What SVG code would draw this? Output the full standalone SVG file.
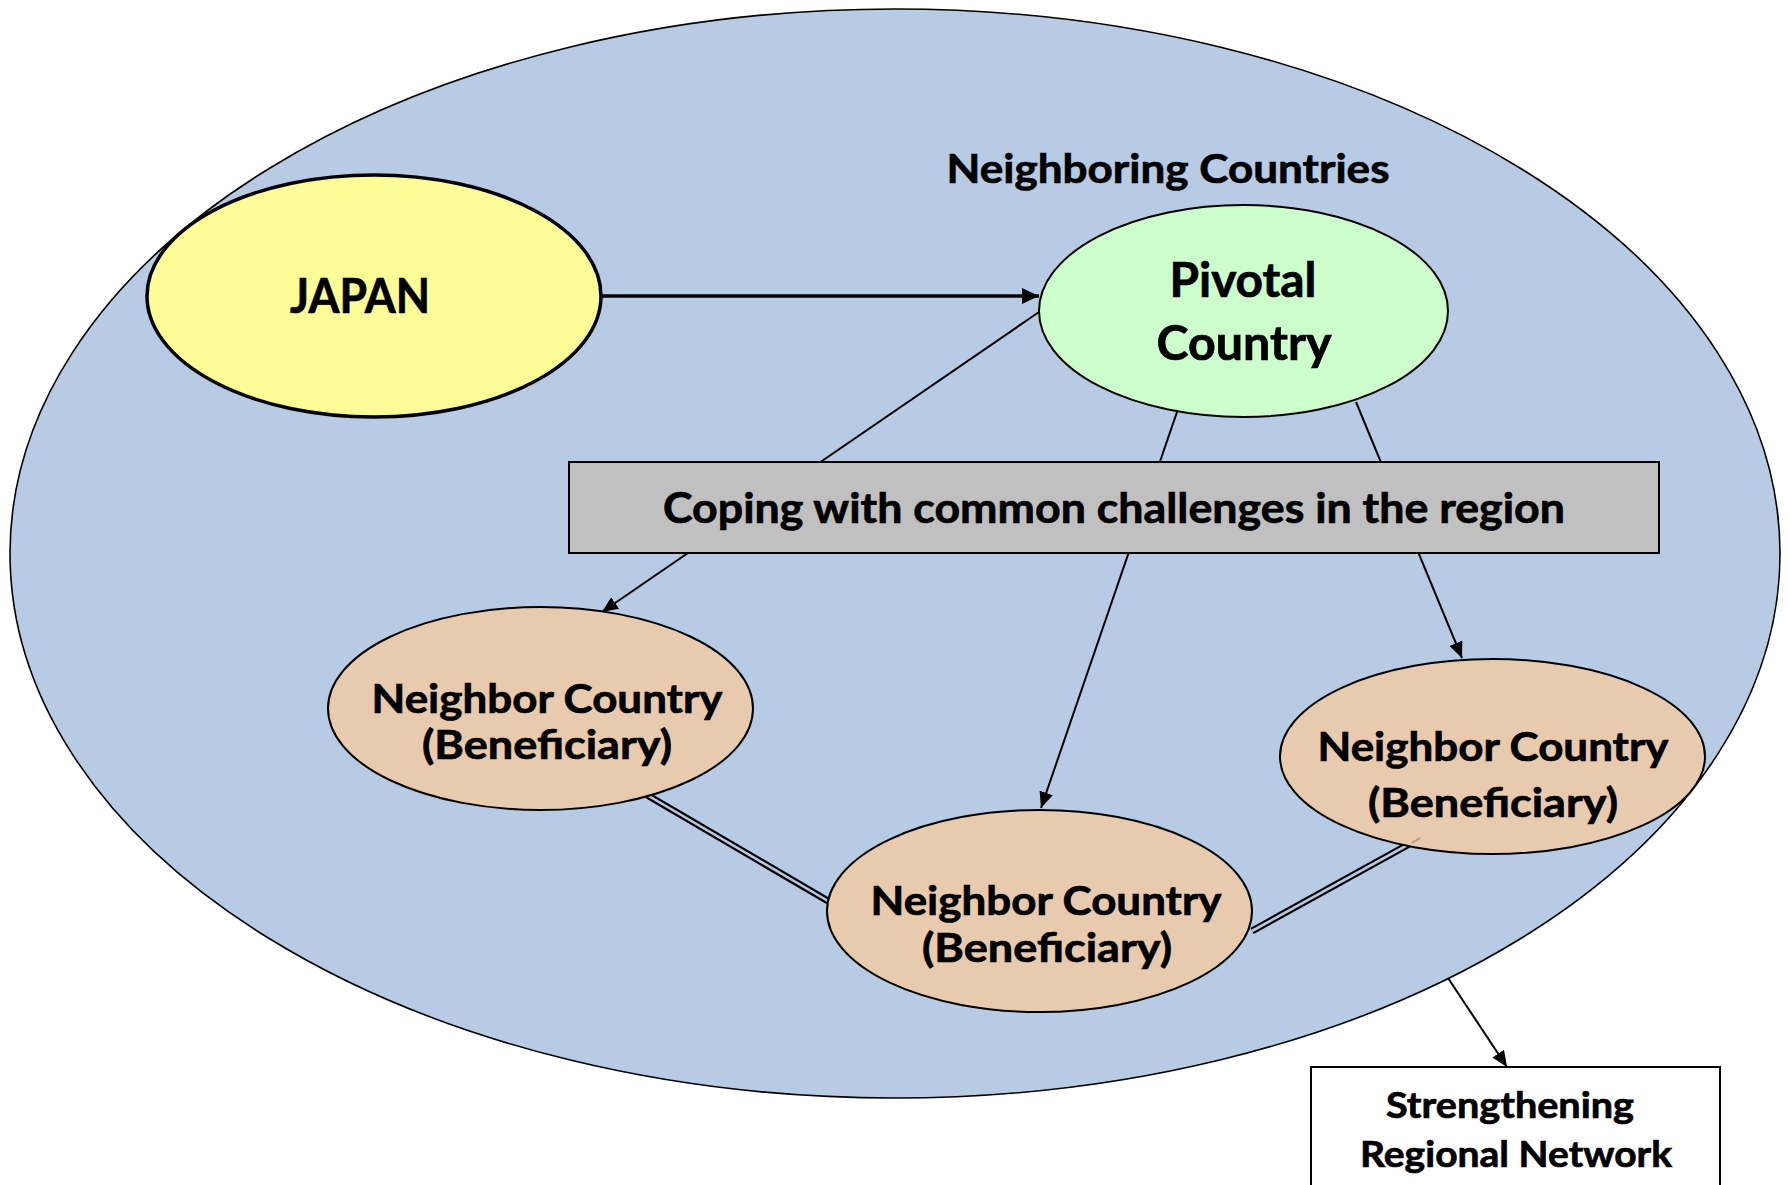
<svg xmlns="http://www.w3.org/2000/svg" width="1789" height="1185" viewBox="0 0 1789 1185">
  <style>
    .lbl { font-family: Lato, "Open Sans", "Liberation Sans", sans-serif; font-weight: bold; fill: #000; stroke: #000; stroke-width: 0.7; text-anchor: middle; }
    .nbr { fill: #E8CAAE; stroke: #000; stroke-width: 2; }
    .link { fill: none; stroke: #000; stroke-width: 2; }
    .dbl-outer { fill: none; stroke: #000; stroke-width: 7; }
    .dbl-inner { fill: none; stroke: #B7CBE4; stroke-width: 2.6; }
  </style>
  <defs>
    <marker id="head" markerUnits="userSpaceOnUse" markerWidth="18" markerHeight="14" refX="16" refY="7" orient="auto">
      <path d="M0,0 L16,7 L0,14 Z" fill="#000"/>
    </marker>
    <marker id="headBig" markerUnits="userSpaceOnUse" markerWidth="18" markerHeight="16" refX="17" refY="8" orient="auto">
      <path d="M0,0 L17,8 L0,16 Z" fill="#000"/>
    </marker>
  </defs>

  <rect width="1789" height="1185" fill="#fff"/>

  <!-- region boundary -->
  <g id="region">
    <ellipse cx="895" cy="553.5" rx="885" ry="544.5" fill="#B7CBE4" stroke="#000" stroke-width="1.6"/>
  </g>

  <!-- connectors -->
  <g id="connectors">
    <line x1="602" y1="296" x2="1039" y2="296" stroke="#000" stroke-width="3.5" marker-end="url(#headBig)"/>
    <line class="link" x1="1039" y1="312" x2="602" y2="612" marker-end="url(#head)"/>
    <line class="link" x1="1177" y1="412" x2="1041" y2="808" marker-end="url(#head)"/>
    <line class="link" x1="1356" y1="402" x2="1462" y2="658" marker-end="url(#head)"/>
    <line class="dbl-outer" x1="647" y1="795" x2="828" y2="901"/>
    <line class="dbl-inner" x1="647" y1="795" x2="828" y2="901"/>
    <line class="dbl-outer" x1="1252" y1="931" x2="1413" y2="842"/>
    <line class="dbl-inner" x1="1252" y1="931" x2="1413" y2="842"/>
    <line class="link" x1="1448" y1="978" x2="1507" y2="1067" marker-end="url(#head)"/>
  </g>

  <g id="region-label">
    <text class="lbl" x="1168" y="183" font-size="41" textLength="443" lengthAdjust="spacingAndGlyphs">Neighboring Countries</text>
  </g>

  <g id="challenges">
    <rect x="569" y="462" width="1090" height="91" fill="#C0C0C0" stroke="#000" stroke-width="2"/>
    <text class="lbl" x="1114" y="523" font-size="42" textLength="902" lengthAdjust="spacingAndGlyphs">Coping with common challenges in the region</text>
  </g>

  <g id="japan">
    <ellipse cx="374" cy="296" rx="227" ry="121" fill="#FDFD98" stroke="#000" stroke-width="3.5"/>
    <text class="lbl" x="360" y="313" font-size="48" textLength="140" lengthAdjust="spacingAndGlyphs">JAPAN</text>
  </g>

  <g id="pivotal">
    <ellipse cx="1243.5" cy="311" rx="204.5" ry="106" fill="#CCFFCC" stroke="#000" stroke-width="2"/>
    <text class="lbl" x="1243" y="297" font-size="48" textLength="147" lengthAdjust="spacingAndGlyphs">Pivotal</text>
    <text class="lbl" x="1244" y="360" font-size="48" textLength="175" lengthAdjust="spacingAndGlyphs">Country</text>
  </g>

  <g id="neighbor-1">
    <ellipse class="nbr" cx="540.5" cy="708.5" rx="212.5" ry="101.5"/>
    <text class="lbl" x="547" y="713" font-size="41" textLength="351" lengthAdjust="spacingAndGlyphs">Neighbor Country</text>
    <text class="lbl" x="547" y="759" font-size="41" textLength="250" lengthAdjust="spacingAndGlyphs">(Beneficiary)</text>
  </g>

  <g id="neighbor-2">
    <ellipse class="nbr" cx="1039.5" cy="911" rx="212.5" ry="101"/>
    <text class="lbl" x="1046" y="915" font-size="41" textLength="351" lengthAdjust="spacingAndGlyphs">Neighbor Country</text>
    <text class="lbl" x="1047" y="962" font-size="41" textLength="250" lengthAdjust="spacingAndGlyphs">(Beneficiary)</text>
  </g>

  <g id="neighbor-3">
    <ellipse class="nbr" cx="1492.5" cy="756.5" rx="212.5" ry="97.5"/>
    <line x1="1412" y1="843" x2="1420" y2="838" stroke="#B89878" stroke-width="2"/>
    <text class="lbl" x="1493" y="761" font-size="41" textLength="351" lengthAdjust="spacingAndGlyphs">Neighbor Country</text>
    <text class="lbl" x="1493" y="817" font-size="41" textLength="250" lengthAdjust="spacingAndGlyphs">(Beneficiary)</text>
  </g>

  <g id="network">
    <rect x="1311" y="1067" width="409" height="130" fill="#fff" stroke="#000" stroke-width="2"/>
    <text class="lbl" x="1510" y="1118" font-size="37" textLength="248" lengthAdjust="spacingAndGlyphs">Strengthening</text>
    <text class="lbl" x="1516" y="1167" font-size="37" textLength="312" lengthAdjust="spacingAndGlyphs">Regional Network</text>
  </g>
</svg>
